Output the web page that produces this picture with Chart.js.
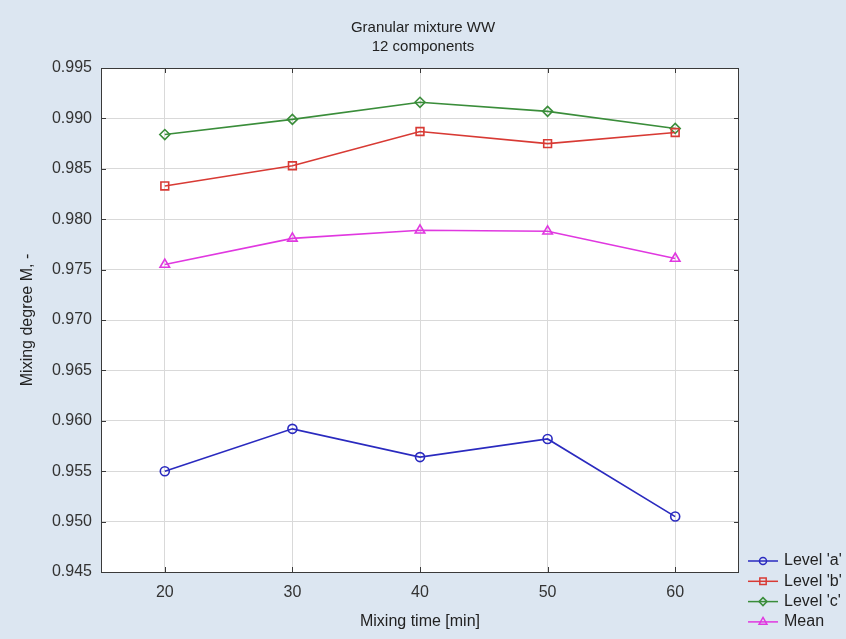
<!DOCTYPE html>
<html>
<head>
<meta charset="utf-8">
<script src="https://cdn.jsdelivr.net/npm/chart.js@4/dist/chart.umd.min.js"></script>
<style>
  html, body { margin: 0; padding: 0; background: #dce6f1; }
  canvas { display: block; }
</style>
</head>
<body>
<canvas id="c" width="846" height="639"></canvas>
<script>
// ---- data ----
const mixingTimes = [20, 30, 40, 50, 60];
const levelA = [0.9550, 0.9592, 0.9564, 0.9582, 0.9505];
const levelB = [0.9833, 0.9853, 0.9887, 0.9875, 0.9886];
const levelC = [0.9884, 0.9899, 0.9916, 0.9907, 0.9890];
const meanValues = [0.9755, 0.9781, 0.9789, 0.9788, 0.9761];
const seriesNames = ["Level 'a'", "Level 'b'", "Level 'c'", "Mean"];
const xTickValues = [20, 30, 40, 50, 60];
const yTickValues = [0.945, 0.950, 0.955, 0.960, 0.965, 0.970, 0.975, 0.980, 0.985, 0.990, 0.995];
const titleLines = ['Granular mixture WW', '12 components'];
const xTitle = 'Mixing time [min]';
const yTitle = 'Mixing degree M, -';

const FONT = "'Liberation Sans', Arial, sans-serif";
const BG = '#dce6f1';

function pts(vals) { return mixingTimes.map((t, i) => ({ x: t, y: vals[i] })); }

const styles = [
  { color: '#2a2abf', pointStyle: 'circle', radius: 4.5 },
  { color: '#d83a34', pointStyle: 'rect', radius: 5.5 },
  { color: '#3a8d3a', pointStyle: 'rectRot', radius: 5 },
  { color: '#e038e0', pointStyle: 'triangle', radius: 5.5 }
];
const seriesData = [levelA, levelB, levelC, meanValues];

const datasets = seriesData.map((vals, i) => ({
  label: seriesNames[i],
  data: pts(vals),
  borderColor: styles[i].color,
  backgroundColor: 'rgba(0,0,0,0)',
  borderWidth: 1.6,
  pointStyle: styles[i].pointStyle,
  pointRadius: styles[i].radius,
  pointHoverRadius: styles[i].radius,
  pointBorderColor: styles[i].color,
  pointBackgroundColor: 'rgba(0,0,0,0)',
  pointBorderWidth: 1.6,
  tension: 0
}));

const framePlugin = {
  id: 'frame',
  beforeDraw(chart) {
    const { ctx, chartArea: a } = chart;
    ctx.save();
    ctx.fillStyle = BG;
    ctx.fillRect(0, 0, chart.width, chart.height);
    ctx.fillStyle = '#ffffff';
    ctx.fillRect(a.left, a.top, a.right - a.left, a.bottom - a.top);
    ctx.restore();
  },
  afterDraw(chart) {
    const { ctx, chartArea: a, scales } = chart;
    ctx.save();
    ctx.strokeStyle = '#3a3a3a';
    ctx.lineWidth = 1;
    ctx.strokeRect(Math.round(a.left) + 0.5, Math.round(a.top) + 0.5,
                   Math.round(a.right - a.left) - 1, Math.round(a.bottom - a.top));
    // inner tick marks
    const L = 5;
    ctx.beginPath();
    yTickValues.forEach(v => {
      const y = Math.round(scales.y.getPixelForValue(v)) + 0.5;
      ctx.moveTo(a.left, y); ctx.lineTo(a.left + L, y);
      ctx.moveTo(a.right, y); ctx.lineTo(a.right - L, y);
    });
    xTickValues.forEach(v => {
      const x = Math.round(scales.x.getPixelForValue(v)) + 0.5;
      ctx.moveTo(x, a.top); ctx.lineTo(x, a.top + L);
      ctx.moveTo(x, a.bottom); ctx.lineTo(x, a.bottom - L);
    });
    ctx.stroke();

    // legend (line + marker + text)
    const lx0 = 748, lx1 = 778, mx = 763, tx = 784;
    const y0 = 561, dy = 20.3;
    ctx.font = '16px ' + FONT;
    ctx.textBaseline = 'middle';
    ctx.textAlign = 'left';
    chart.data.datasets.forEach((ds, i) => {
      const y = y0 + i * dy;
      ctx.strokeStyle = ds.borderColor;
      ctx.lineWidth = 1.5;
      ctx.beginPath();
      ctx.moveTo(lx0, y); ctx.lineTo(lx1, y);
      ctx.stroke();
      ctx.fillStyle = 'rgba(0,0,0,0)';
      ctx.strokeStyle = ds.borderColor;
      if (Chart.helpers && Chart.helpers.drawPoint) {
        Chart.helpers.drawPoint(ctx, { pointStyle: ds.pointStyle, radius: ds.pointRadius - 1, borderWidth: 1.5, rotation: 0 }, mx, y);
      }
      ctx.fillStyle = '#222222';
      ctx.fillText(ds.label, tx, y);
    });
    ctx.restore();
  }
};

new Chart(document.getElementById('c'), {
  type: 'line',
  data: { datasets },
  plugins: [framePlugin],
  options: {
    responsive: false,
    animation: false,
    layout: { padding: { left: 0, right: 0, top: 0, bottom: 0 } },
    plugins: {
      legend: { display: false },
      tooltip: { enabled: false },
      title: {
        display: true,
        text: titleLines,
        color: '#222222',
        font: { family: FONT, size: 15, weight: 'normal', lineHeight: 1.25 },
        padding: { top: 18.6, bottom: 11.9 }
      }
    },
    scales: {
      x: {
        type: 'linear',
        min: 15,
        max: 65,
        afterBuildTicks: s => { s.ticks = xTickValues.map(v => ({ value: v })); },
        afterFit: s => { s.height = 67; },
        grid: { color: '#d9d9d9', lineWidth: 1, drawTicks: false },
        border: { display: false },
        ticks: {
          padding: 11,
          color: '#333333',
          font: { family: FONT, size: 16 },
          callback: v => String(v)
        },
        title: {
          display: true,
          text: xTitle,
          color: '#222222',
          font: { family: FONT, size: 16, lineHeight: 1.2 },
          padding: { top: 4, bottom: 7.4 }
        }
      },
      y: {
        type: 'linear',
        min: 0.945,
        max: 0.995,
        afterBuildTicks: s => { s.ticks = yTickValues.map(v => ({ value: v })); },
        afterFit: s => { s.width = 101; },
        grid: { color: '#d9d9d9', lineWidth: 1, drawTicks: false },
        border: { display: false },
        ticks: {
          padding: 9,
          color: '#333333',
          font: { family: FONT, size: 16 },
          callback: v => Number(v).toFixed(3)
        },
        title: {
          display: true,
          text: yTitle,
          color: '#222222',
          font: { family: FONT, size: 16, lineHeight: 1.2 },
          padding: { top: 18.4, bottom: 0 }
        }
      },
      legendSpace: {
        type: 'linear',
        position: 'right',
        display: true,
        min: 0,
        max: 1,
        afterFit: s => { s.width = 107; },
        grid: { display: false, drawTicks: false },
        border: { display: false },
        ticks: { display: false },
        title: { display: false }
      }
    }
  }
});
</script>
</body>
</html>
